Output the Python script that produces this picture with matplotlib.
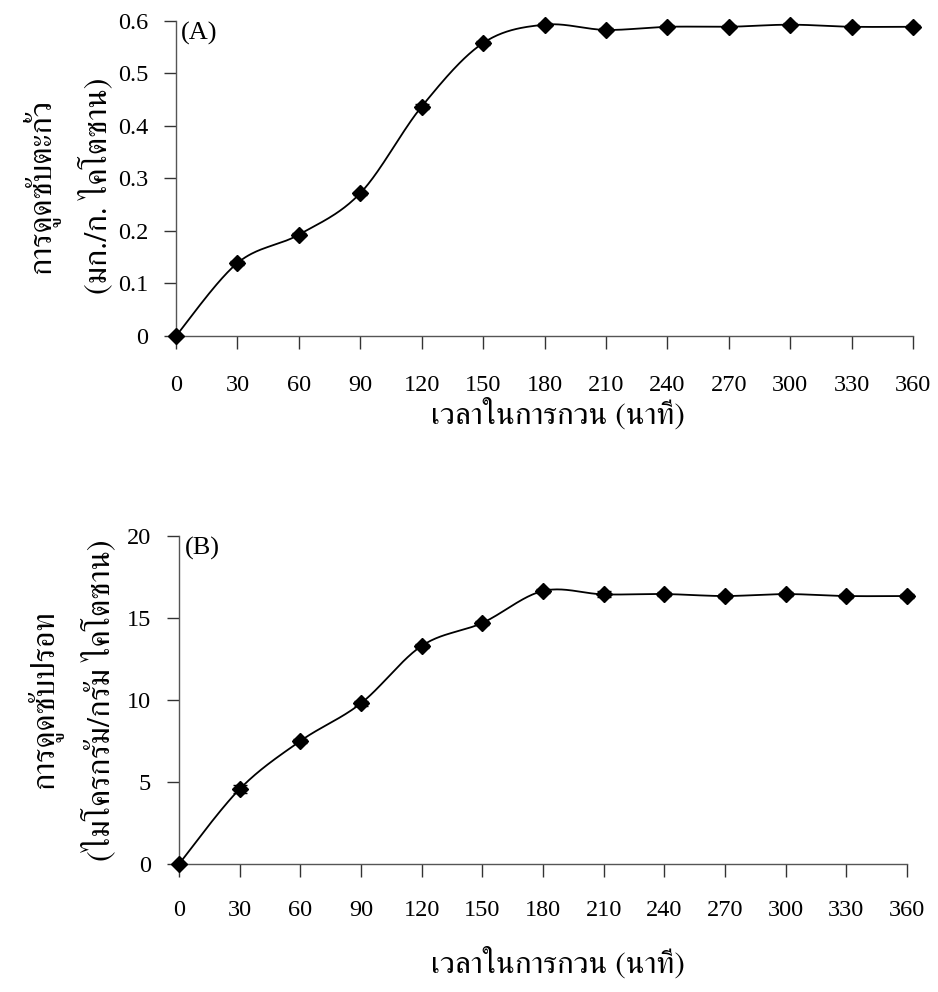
import numpy as np
import matplotlib
matplotlib.use("Agg")
import matplotlib.pyplot as plt

# Stirring time (minutes)
time_min = [0, 30, 60, 90, 120, 150, 180, 210, 240, 270, 300, 330, 360]
xtick_labels = ["0", "30", "60", "90", "120", "150", "180", "210", "240", "270", "300", "330", "360"]

# (A) lead adsorption, mg/g chitosan
lead_uptake = [0.0, 0.139, 0.193, 0.272, 0.437, 0.558, 0.593, 0.583, 0.589, 0.589, 0.593, 0.589, 0.589]
lead_err = [0.0, 0.004, 0.003, 0.003, 0.004, 0.004, 0.003, 0.003, 0.003, 0.003, 0.003, 0.003, 0.003]

# (B) mercury adsorption, ug/g chitosan
mercury_uptake = [0.0, 4.57, 7.5, 9.8, 13.3, 14.7, 16.65, 16.44, 16.46, 16.34, 16.46, 16.34, 16.34]
mercury_err = [0.0, 0.22, 0.1, 0.15, 0.1, 0.12, 0.1, 0.18, 0.1, 0.1, 0.1, 0.12, 0.15]

SERIF = ["Liberation Serif", "FreeSerif", "DejaVu Serif"]
THAI = ["FreeSerif", "Liberation Serif", "DejaVu Sans"]
plt.rcParams["font.family"] = SERIF

TICK_FS = 17.5
THAI_FS = 23
XLABEL_FS = 22.5
PANEL_FS = 19


def smooth_curve(x, y, n=40):
    """Piecewise cubic Bezier through the points (Catmull-Rom tangents)."""
    x = np.asarray(x, float)
    y = np.asarray(y, float)
    px = np.concatenate([[x[0]], x, [x[-1]]])
    py = np.concatenate([[y[0]], y, [y[-1]]])
    xs, ys = [], []
    t = np.linspace(0, 1, n)[:, None]
    for i in range(1, len(px) - 2):
        p0 = np.array([px[i], py[i]])
        p3 = np.array([px[i + 1], py[i + 1]])
        p1 = p0 + (np.array([px[i + 1], py[i + 1]]) - np.array([px[i - 1], py[i - 1]])) / 6.0
        p2 = p3 - (np.array([px[i + 2], py[i + 2]]) - np.array([px[i], py[i]])) / 6.0
        seg = ((1 - t) ** 3) * p0 + 3 * ((1 - t) ** 2) * t * p1 + 3 * (1 - t) * t ** 2 * p2 + t ** 3 * p3
        xs.append(seg[:, 0])
        ys.append(seg[:, 1])
    return np.concatenate(xs), np.concatenate(ys)


W, H = 938, 992
fig = plt.figure(figsize=(W / 100, H / 100), dpi=100)


def px_axes(left, right, top, bottom):
    return fig.add_axes([left / W, 1 - bottom / H, (right - left) / W, (bottom - top) / H])


def style_axes(ax, ymax, ystep, yfmt, xpad):
    ax.set_xlim(0, 360)
    ax.set_ylim(0, ymax)
    ax.set_xticks(time_min)
    ax.set_xticklabels(xtick_labels)
    yt = np.arange(0, ymax + ystep / 2, ystep)
    ax.set_yticks(yt)
    ax.set_yticklabels([yfmt(v) for v in yt])
    for s in ("top", "right"):
        ax.spines[s].set_visible(False)
    for s in ("left", "bottom"):
        ax.spines[s].set_color("#555555")
        ax.spines[s].set_linewidth(1.0)
    ax.tick_params(axis="x", direction="out", length=9, width=1.0, color="#333333",
                   pad=xpad, labelsize=TICK_FS)
    ax.tick_params(axis="y", direction="out", length=9, width=1.0, color="#333333",
                   pad=11, labelsize=TICK_FS)


def draw_series(ax, x, y, err, cap):
    sx, sy = smooth_curve(x, y)
    ax.plot(sx, sy, color="black", lw=1.3, clip_on=False, zorder=2)
    ax.errorbar(x, y, yerr=err, fmt="none", ecolor="black", elinewidth=1.0,
                capsize=cap, capthick=1.0, clip_on=False, zorder=3)
    ax.plot(x, y, linestyle="none", marker="D", ms=8.3, color="black", clip_on=False, zorder=4)


def place_xlabel(ax, left, right, top, bottom, label_x, baseline_y):
    # label baseline given in figure pixels, converted to axes fraction
    ax.xaxis.label.set_va("baseline")
    ax.xaxis.set_label_coords((label_x - left) / (right - left),
                              -(baseline_y - bottom) / (bottom - top))


# ---- (A) lead ----
axA = px_axes(176, 913, 21, 336)
style_axes(axA, 0.6, 0.1, lambda v: "0" if v == 0 else f"{v:.1f}", 19)
draw_series(axA, time_min, lead_uptake, lead_err, 5)
axA.text(5 / 737, 1 - 1 / 315, "(A)", transform=axA.transAxes, ha="left", va="top",
         fontsize=PANEL_FS)
axA.set_xlabel("เวลาในการกวน (นาที)", family=THAI, fontsize=XLABEL_FS)
place_xlabel(axA, 176, 913, 21, 336, 558, 424)
fig.text(40 / W, 1 - 187 / H, "การดูดซับตะกั่ว", rotation=90, ha="center", va="center",
         family=THAI, fontsize=THAI_FS)
fig.text(96 / W, 1 - 186 / H, "(มก./ก. ไคโตซาน)", rotation=90, ha="center", va="center",
         family=THAI, fontsize=THAI_FS)

# ---- (B) mercury ----
axB = px_axes(179, 907, 536, 864)
style_axes(axB, 20, 5, lambda v: f"{v:.0f}", 17)
draw_series(axB, time_min, mercury_uptake, mercury_err, 5)
axB.text(6 / 728, 1 - 1 / 328, "(B)", transform=axB.transAxes, ha="left", va="top",
         fontsize=PANEL_FS)
axB.set_xlabel("เวลาในการกวน (นาที)", family=THAI, fontsize=XLABEL_FS)
place_xlabel(axB, 179, 907, 536, 864, 558, 973)
fig.text(44 / W, 1 - 700 / H, "การดูดซับปรอท", rotation=90, ha="center", va="center",
         family=THAI, fontsize=THAI_FS)
fig.text(99 / W, 1 - 700 / H, "(ไมโครกรัม/กรัม ไคโตซาน)", rotation=90, ha="center", va="center",
         family=THAI, fontsize=THAI_FS)

fig.savefig("out.png", dpi=100)
